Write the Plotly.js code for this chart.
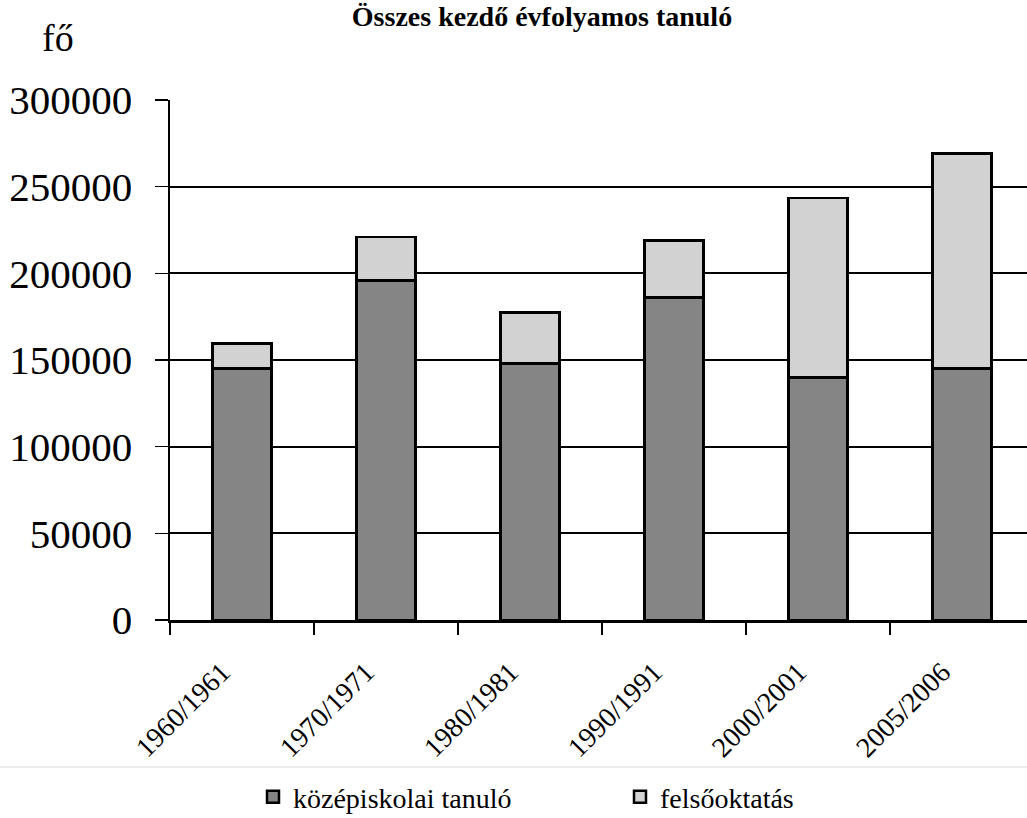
<!DOCTYPE html>
<html>
<head>
<meta charset="utf-8">
<script src="https://cdn.plot.ly/plotly-3.0.1.min.js"></script>
<style>html,body{margin:0;padding:0;background:#fff;}#chart{width:1027px;height:818px;}</style>
</head>
<body>
<div id="chart"></div>
<script>
const categories = ["1960/1961", "1970/1971", "1980/1981", "1990/1991", "2000/2001", "2005/2006"];
const kozepiskolai = [145000, 196000, 148000, 186000, 140000, 145000];
const felsooktatas = [14500, 25000, 29500, 33000, 103500, 124000];
const yTicks = [0, 50000, 100000, 150000, 200000, 250000, 300000];

const serif = "Liberation Serif";

const traces = [
  {
    type: "bar", name: "középiskolai tanuló", x: categories, y: kozepiskolai,
    width: 0.41,
    marker: {color: "#858585", line: {color: "#000", width: 2.5}}
  },
  {
    type: "bar", name: "felsőoktatás", x: categories, y: felsooktatas,
    width: 0.41,
    marker: {color: "#d2d2d2", line: {color: "#000", width: 2.5}}
  }
];

const layout = {
  width: 1027, height: 818,
  margin: {l: 170, r: 0, t: 100, b: 198, autoexpand: false},
  paper_bgcolor: "#fff", plot_bgcolor: "#fff",
  font: {family: serif, color: "#000"},
  barmode: "stack",
  showlegend: true,
  title: {
    text: "<b>Összes kezdő évfolyamos tanuló</b>",
    font: {family: serif, size: 28, color: "#000"},
    x: 542 / 1027, xref: "container", xanchor: "center",
    y: 1 - 16 / 818, yref: "container", yanchor: "middle"
  },
  xaxis: {
    type: "category",
    range: [-0.5, 5.45],
    showline: true, linecolor: "#000", linewidth: 2.5,
    ticks: "outside", tickson: "boundaries", ticklen: 12, tickcolor: "#000", tickwidth: 1.5,
    tickangle: -45,
    ticklabelshift: -20, ticklabelstandoff: 22,
    tickfont: {family: serif, size: 28, color: "#000"},
    showgrid: false, zeroline: false, fixedrange: true
  },
  yaxis: {
    range: [0, 300000],
    tickvals: yTicks,
    ticktext: yTicks.map(String),
    showline: true, linecolor: "#000", linewidth: 2.5,
    ticks: "outside", ticklen: 13, tickcolor: "#000", tickwidth: 1.5,
    ticklabelstandoff: 14,
    tickfont: {family: serif, size: 41, color: "#000"},
    showgrid: true, gridcolor: "#000", gridwidth: 1.8,
    zeroline: false, fixedrange: true
  },
  legend: {
    orientation: "h",
    x: (620 - 170) / 857, xanchor: "center",
    y: (620 - 797) / 520, yanchor: "middle",
    traceorder: "normal",
    entrywidth: 322, entrywidthmode: "pixels",
    font: {family: serif, size: 28, color: "#000"},
    bgcolor: "rgba(0,0,0,0)"
  },
  annotations: [
    {
      text: "fő", xref: "paper", yref: "paper",
      x: (58 - 170) / 857, y: (620 - 38) / 520,
      xanchor: "center", yanchor: "middle", showarrow: false,
      font: {family: serif, size: 38, color: "#000"}
    }
  ],
  shapes: [
    {type: "line", xref: "paper", yref: "paper",
     x0: -170 / 857, x1: 1, y0: (620 - 767) / 520, y1: (620 - 767) / 520,
     line: {color: "#ececec", width: 2}}
  ]
};

Plotly.newPlot("chart", traces, layout, {displayModeBar: false, staticPlot: true});
</script>
</body>
</html>
